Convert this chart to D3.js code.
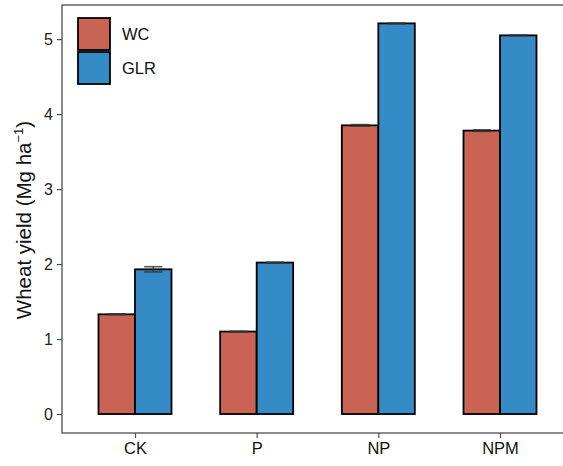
<!DOCTYPE html>
<html>
<head>
<meta charset="utf-8">
<script src="https://cdn.jsdelivr.net/npm/d3@7"></script>
<style>
body{margin:0;background:#fff;}
svg text{font-family:Arial,"Liberation Sans",sans-serif;}
</style>
</head>
<body>
<svg id="chart" width="563" height="466"></svg>
<script>
let treatments=["CK","P","NP","NPM"];
let groups=["WC","GLR"];
let wcVals=[1.33,1.10,3.85,3.78];
let glrVals=[1.93,2.02,5.21,5.05];
let wcErr=[0.005,0.005,0.01,0.01];
let glrErr=[0.035,0.005,0.005,0.005];
let yTicks=[0,1,2,3,4,5];
let cols={"WC":"#c96454","GLR":"#348bc5"};

let svg=d3.select("#chart");
let pL=62,pT=5,pB=433,pR=573;

let x=d3.scaleBand().domain(treatments).range([pL,pR]).paddingInner(0.4).paddingOuter(0.3);
let xc=(d)=>x(d)+x.bandwidth()/2;
let xg=d3.scaleBand().domain(groups).range([0,x.bandwidth()]);
let y=d3.scaleLinear().domain([-0.253,5.455]).range([pB,pT]);

let rows=[];
treatments.forEach((t,i)=>{
  rows.push({t:t,g:"WC",v:wcVals[i],e:wcErr[i]});
  rows.push({t:t,g:"GLR",v:glrVals[i],e:glrErr[i]});
});

// panel border
svg.append("rect").attr("x",pL).attr("y",pT).attr("width",pR-pL).attr("height",pB-pT)
  .attr("fill","none").attr("stroke","#4d4d4d").attr("stroke-width",1.3);

// bars
svg.selectAll("rect.bar").data(rows).enter().append("rect").attr("class","bar")
  .attr("x",d=>x(d.t)+xg(d.g)).attr("width",xg.bandwidth())
  .attr("y",d=>y(d.v)).attr("height",d=>y(0)-y(d.v))
  .attr("fill",d=>cols[d.g]).attr("stroke","#000").attr("stroke-width",1.8);

// error bars
let eb=svg.selectAll("g.err").data(rows).enter().append("g").attr("class","err")
  .attr("stroke","#333").attr("stroke-opacity",0.8).attr("stroke-width",1.6);
eb.append("line").attr("x1",d=>x(d.t)+xg(d.g)+xg.bandwidth()/2).attr("x2",d=>x(d.t)+xg(d.g)+xg.bandwidth()/2)
  .attr("y1",d=>y(d.v+d.e)).attr("y2",d=>y(d.v-d.e));
eb.append("line").attr("x1",d=>x(d.t)+xg(d.g)+xg.bandwidth()*0.25).attr("x2",d=>x(d.t)+xg(d.g)+xg.bandwidth()*0.75)
  .attr("y1",d=>y(d.v+d.e)).attr("y2",d=>y(d.v+d.e));
eb.append("line").attr("x1",d=>x(d.t)+xg(d.g)+xg.bandwidth()*0.25).attr("x2",d=>x(d.t)+xg(d.g)+xg.bandwidth()*0.75)
  .attr("y1",d=>y(d.v-d.e)).attr("y2",d=>y(d.v-d.e));

// axes
let yAxis=d3.axisLeft(y).tickValues(yTicks).tickFormat(d3.format("d")).tickSize(5).tickPadding(4);
let gy=svg.append("g").attr("transform","translate("+pL+",0)").call(yAxis);
gy.select(".domain").remove();
gy.selectAll("line").attr("stroke","#4d4d4d").attr("stroke-width",1.2);
gy.selectAll("text").style("font-size","16px").attr("fill","#222");

let xAxis=d3.axisBottom(d3.scalePoint().domain(treatments).range([xc("CK"),xc("NPM")])).tickSize(5).tickPadding(4);
let gx=svg.append("g").attr("transform","translate(0,"+pB+")").call(xAxis);
gx.select(".domain").remove();
gx.selectAll("line").attr("stroke","#4d4d4d").attr("stroke-width",1.2);
gx.selectAll("text").style("font-size","16.5px").attr("fill","#111");

// y title
let yt=svg.append("text").attr("transform","translate(31,220) rotate(-90)")
  .attr("text-anchor","middle").style("font-size","20.5px").attr("fill","#111");
yt.append("tspan").text("Wheat yield (Mg ha");
yt.append("tspan").text("\u22121").attr("dy",-8).style("font-size","13px");
yt.append("tspan").text(")").attr("dy",8);

// legend
let lg=svg.append("g");
groups.forEach((g,i)=>{
  lg.append("rect").attr("x",78).attr("y",18+i*34).attr("width",32).attr("height",32)
    .attr("fill",cols[g]).attr("stroke","#000").attr("stroke-width",1.8);
  lg.append("text").attr("x",122).attr("y",34+i*34).attr("dy","0.36em")
    .style("font-size","16.5px").attr("fill","#111").text(g);
});
</script>
</body>
</html>
